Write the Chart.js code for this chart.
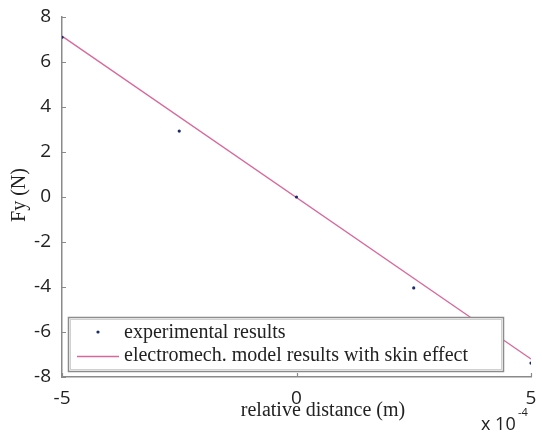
<!DOCTYPE html>
<html lang="en">
<head>
    <meta charset="UTF-8">
    <title>Fy vs relative distance</title>
    <script src="https://cdn.jsdelivr.net/npm/chart.js"></script>
    <style>
        html, body { margin: 0; padding: 0; background: #fff; }
        #wrap { width: 542px; height: 435px; }
    </style>
</head>
<body>
    <div id="wrap"><canvas id="fyChart" width="542" height="435"></canvas></div>

    <script>
        // distances in units of 1e-4 m
        const expDistance = [-5, -2.5, 0, 2.5, 5];
        const expForce = [7.1, 2.93, 0.0, -4.04, -7.38];
        const modelDistance = [-5, 5];
        const modelForce = [7.15, -7.2];
        const yTicks = [-8, -6, -4, -2, 0, 2, 4, 6, 8];
        const xTicks = [-5, 0, 5];
        const legendLabels = ["experimental results", "electromech. model results with skin effect"];

        const axisColor = '#8a8a8a';
        const textColor = '#222';
        const lineColor = '#d8689c';
        const dotColor = '#1c2a6b';
        const serif = '"Liberation Serif", "DejaVu Serif", serif';
        const sans = '"Open Sans", "Liberation Sans", sans-serif';

        // inward tick marks, titles, exponent and legend
        const decorations = {
            id: 'decorations',
            afterDraw(chart) {
                const ctx = chart.ctx;
                const xs = chart.scales.x, ys = chart.scales.y;
                const area = chart.chartArea;
                ctx.save();
                ctx.strokeStyle = axisColor;
                ctx.lineWidth = 1.2;
                ctx.beginPath();
                yTicks.forEach(v => {
                    const py = Math.round(ys.getPixelForValue(v)) + 0.5;
                    ctx.moveTo(area.left, py);
                    ctx.lineTo(area.left + 4, py);
                });
                xTicks.forEach(v => {
                    const px = Math.round(xs.getPixelForValue(v)) + 0.5;
                    ctx.moveTo(px, area.bottom);
                    ctx.lineTo(px, area.bottom - 4);
                });
                ctx.stroke();

                // axis titles
                ctx.fillStyle = textColor;
                ctx.font = '20px ' + serif;
                ctx.textAlign = 'center';
                ctx.textBaseline = 'middle';
                ctx.fillText('relative distance (m)', 323, 411);
                ctx.save();
                ctx.translate(20, 195);
                ctx.rotate(-Math.PI / 2);
                ctx.fillText('Fy (N)', 0, 0);
                ctx.restore();

                // exponent
                ctx.font = '18px ' + sans;
                ctx.textAlign = 'left';
                ctx.fillText('x 10', 481, 425);
                ctx.font = '11px ' + sans;
                ctx.fillText('-4', 518, 413);

                // legend box
                const bx = 68, by = 317, bw = 435, bh = 54;
                ctx.fillStyle = '#fff';
                ctx.fillRect(bx, by, bw, bh);
                ctx.strokeStyle = '#8c8c8c';
                ctx.lineWidth = 1.5;
                ctx.strokeRect(bx + 0.5, by + 0.5, bw, bh);
                ctx.strokeStyle = '#d0d0d0';
                ctx.lineWidth = 1;
                ctx.strokeRect(bx + 2.5, by + 2.5, bw - 4, bh - 4);

                ctx.fillStyle = dotColor;
                ctx.beginPath();
                ctx.arc(98, 332, 1.6, 0, Math.PI * 2);
                ctx.fill();
                ctx.strokeStyle = lineColor;
                ctx.lineWidth = 1.3;
                ctx.beginPath();
                ctx.moveTo(77, 356.5);
                ctx.lineTo(119, 356.5);
                ctx.stroke();

                ctx.fillStyle = textColor;
                ctx.font = '20px ' + serif;
                ctx.textAlign = 'left';
                ctx.textBaseline = 'middle';
                ctx.fillText(legendLabels[0], 124, 333);
                ctx.fillText(legendLabels[1], 124, 356);
                ctx.restore();
            }
        };

        const tickFont = { family: sans, size: 19 };

        new Chart(document.getElementById('fyChart'), {
            type: 'scatter',
            data: {
                datasets: [
                    {
                        label: legendLabels[1],
                        data: modelDistance.map((d, i) => ({ x: d, y: modelForce[i] })),
                        showLine: true,
                        borderColor: lineColor,
                        borderWidth: 1.3,
                        pointRadius: 0,
                        fill: false,
                        order: 2
                    },
                    {
                        label: legendLabels[0],
                        data: expDistance.map((d, i) => ({ x: d, y: expForce[i] })),
                        backgroundColor: dotColor,
                        borderColor: dotColor,
                        pointRadius: 1.6,
                        borderWidth: 0,
                        order: 1
                    }
                ]
            },
            options: {
                responsive: false,
                animation: false,
                layout: { padding: { top: 17, right: 11, left: 0, bottom: 0 } },
                plugins: {
                    legend: { display: false },
                    tooltip: { enabled: false }
                },
                scales: {
                    x: {
                        type: 'linear',
                        min: -5,
                        max: 5,
                        afterFit: s => { s.height = 58; },
                        afterBuildTicks: s => { s.ticks = xTicks.map(v => ({ value: v })); },
                        grid: { display: false },
                        border: { display: true, color: axisColor, width: 1.5 },
                        ticks: { color: textColor, font: tickFont, padding: 2, maxRotation: 0 }
                    },
                    y: {
                        min: -8,
                        max: 8,
                        afterFit: s => { s.width = 62; },
                        afterBuildTicks: s => { s.ticks = yTicks.map(v => ({ value: v })); },
                        grid: { display: false },
                        border: { display: true, color: axisColor, width: 1.5 },
                        ticks: { color: textColor, font: tickFont, padding: 3 }
                    }
                }
            },
            plugins: [decorations]
        });
    </script>
</body>
</html>
